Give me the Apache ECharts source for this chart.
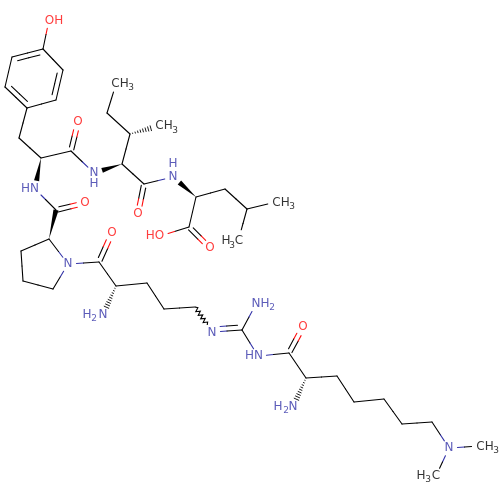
<!DOCTYPE html>
<html><head><meta charset="utf-8">
<style>html,body{margin:0;padding:0;background:#fff}#c{width:500px;height:500px}</style>
<script src="https://cdn.jsdelivr.net/npm/echarts@6/dist/echarts.min.js"></script>
</head><body><div id="c"></div>
<script>
var atomX=[49,43,12,5,27,56,63,19,41,71,78,94,122,130,107,116,159,144,138,173,196,225,247,276,239,189,160,210,35,56,85,49,21,23,53,68,99,112,116,103,147,164,195,212,242,256,258,289,303,306,293,337,354,384,402,432,449,480,436];
var atomY=[20,49,57,87,108,100,70,138,158,151,122,173,164,134,113,84,126,184,214,177,197,189,209,202,238,227,236,248,189,210,203,239,251,281,289,264,262,233,286,315,283,309,307,332,330,304,356,353,327,378,407,376,402,399,424,422,448,446,476];
var atomEl=['O','C','C','C','C','C','C','C','C','C','O','N','C','C','C','M','M','C','O','N','C','C','C','M','M','C','O','O','N','C','O','C','C','C','C','N','C','O','C','N','C','C','C','N','C','N','N','C','O','C','N','C','C','C','C','C','N','M','M'];
// single bonds: [from, to]
var singleBonds=[[0,1],[2,3],[4,5],[6,1],[4,7],[7,8],[8,9],[9,11],[12,13],[13,14],[14,15],[12,17],[17,19],[20,21],[21,22],[22,23],[22,24],[20,25],[25,26],[28,29],[31,32],[32,33],[33,34],[34,35],[35,31],[35,36],[36,38],[38,40],[40,41],[41,42],[44,45],[44,46],[46,47],[47,49],[49,51],[51,52],[52,53],[53,54],[54,55],[55,56],[56,57],[56,58]];
// double bonds: [from, to, side] (0 = centred)
var doubleBonds=[[1,2,1],[3,4,1],[5,6,1],[9,10,0],[17,18,0],[25,27,0],[29,30,0],[36,37,0],[47,48,0],[43,44,1]];
var wedgeBonds=[[8,28],[12,11],[20,19],[31,29]];
var hashBonds=[[13,16],[38,39],[49,50]];
var wavyBonds=[[42,43]];
var labelTexts=['OH','O','CH','3','CH','3','N','H','O','H','N','CH','3','H','3','C','HO','O','HN','O','N','O','H','2','N','N','NH','2','HN','O','H','2','N','N','CH','3','H','3','C'];
var labelX=[54,78,120,131,164,175,94,94,138,173,173,281,292,226,232,239,155,210,30,85,68,112,87,94,103,212,260.5,272,254,303,278,286,293,449,485,496,421,428,436];
var labelY=[21,122,84,88,126,131,173,184,214,164,177,203,207,241,246,241,236,248,189,203,264,233,315,319,315,333,304,308,356,327,407,411,407,448,447,451,476,480,476];
var labelEl=['O','O','M','M','M','M','N','N','O','N','N','M','M','M','M','M','O','O','N','O','N','O','N','N','N','N','N','N','N','O','N','N','N','N','M','M','M','M','M'];

var colors={C:'#000000',M:'#000000',O:'#ff0d0d',N:'#3333a8'};
var LW=1.1, TRIM=8.5;
function items(list,kind){return list.map(function(b){return {value:[atomX[b[0]],atomY[b[0]],atomX[b[1]],atomY[b[1]]],kind:kind,a:b[0],b:b[1],side:b[2]||0};});}
var bondData=[].concat(items(singleBonds,'s'),items(doubleBonds,'d'),items(wedgeBonds,'w'),items(hashBonds,'h'),items(wavyBonds,'z'));

function line(p,q,col){return {type:'line',shape:{x1:p[0],y1:p[1],x2:q[0],y2:q[1]},style:{stroke:col,lineWidth:LW,lineCap:'round'}};}
function seg(p,q,t){return [p[0]+(q[0]-p[0])*t,p[1]+(q[1]-p[1])*t];}
function render(params,api){
  var d=bondData[params.dataIndex];
  var A=api.coord([api.value(0),api.value(1)]),B=api.coord([api.value(2),api.value(3)]);
  var ea=atomEl[d.a],eb=atomEl[d.b];
  var dx=B[0]-A[0],dy=B[1]-A[1],len=Math.sqrt(dx*dx+dy*dy),ux=dx/len,uy=dy/len,nx=uy,ny=-ux;
  var ta=ea==='C'?0:TRIM/len,tb=eb==='C'?0:TRIM/len;
  var kids=[];
  function half(off,t0,t1){
    var o=[nx*off,ny*off];
    var P=seg(A,B,t0),Q=seg(A,B,t1),M=seg(A,B,0.5);
    P=[P[0]+o[0],P[1]+o[1]];Q=[Q[0]+o[0],Q[1]+o[1]];M=[M[0]+o[0],M[1]+o[1]];
    kids.push(line(P,M,colors[ea]));kids.push(line(M,Q,colors[eb]));
  }
  if(d.kind==='s'){half(0,ta,1-tb);}
  else if(d.kind==='d'){
    if(d.side===0){half(2.4,Math.max(ta,0.12),1-Math.max(tb,0.12));half(-2.4,Math.max(ta,0.06),1-Math.max(tb,0.12));}
    else{half(0,ta,1-tb);half(5*d.side,Math.max(ta,0.14),1-Math.max(tb,0.14));}
  }
  else if(d.kind==='w'){
    var E=seg(A,B,1-tb);
    kids.push({type:'polygon',shape:{points:[A,[E[0]+nx*2.6,E[1]+ny*2.6],[E[0]-nx*2.6,E[1]-ny*2.6]]},style:{fill:'#000'}});
  }
  else if(d.kind==='h'){
    var L=len*(1-tb),n=Math.round(L/2.6);
    for(var i=1;i<=n;i++){
      var f=i/n,c=seg(A,B,(1-tb)*f),w=0.3+2.6*f;
      kids.push({type:'line',shape:{x1:c[0]+nx*w,y1:c[1]+ny*w,x2:c[0]-nx*w,y2:c[1]-ny*w},style:{stroke:'#000',lineWidth:0.9}});
    }
  }
  else{
    var pts=[],m=10;
    for(var j=0;j<=m;j++){
      var g=seg(A,B,(1-tb)*j/m),s=(j===0||j===m)?0:(j%2?2:-2);
      pts.push([g[0]+nx*s,g[1]+ny*s]);
    }
    kids.push({type:'polyline',shape:{points:pts},style:{stroke:'#000',lineWidth:LW,fill:null}});
  }
  return {type:'group',children:kids};
}
var chart=echarts.init(document.getElementById('c'),null,{renderer:'canvas'});
chart.setOption({
  animation:false,backgroundColor:'#fff',
  grid:{left:0,right:0,top:0,bottom:0},
  xAxis:{type:'value',min:0,max:500,show:false},
  yAxis:{type:'value',min:0,max:500,inverse:true,show:false},
  series:[
    {type:'custom',coordinateSystem:'cartesian2d',data:bondData.map(function(d){return d.value;}),renderItem:render,silent:true,clip:false},
    {type:'scatter',symbolSize:0,silent:true,clip:false,z:5,
     data:labelTexts.map(function(t,i){return {value:[labelX[i],labelY[i]],
       label:{show:true,position:'inside',formatter:t,fontFamily:'DejaVu Sans',fontSize:/\d/.test(t)?9:12,color:colors[labelEl[i]],align:'center',verticalAlign:'middle'}};})}
  ]
});
</script></body></html>
